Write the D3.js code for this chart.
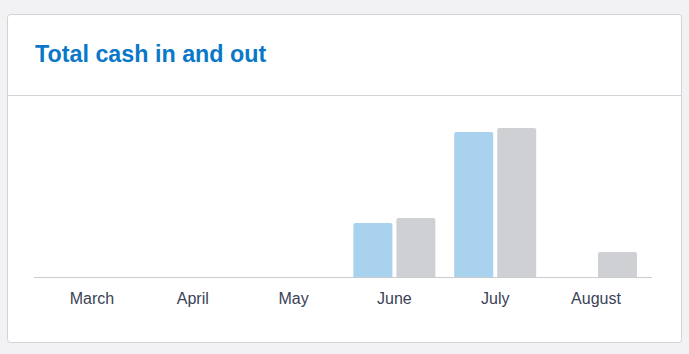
<!DOCTYPE html>
<html>
<head>
<meta charset="utf-8">
<script src="https://cdn.jsdelivr.net/npm/d3@7"></script>
<style>
  body { margin: 0; background: #f2f2f4; font-family: "Liberation Sans", Arial, sans-serif; }
</style>
</head>
<body>
<div id="chart"></div>
<script>
var months = ['March', 'April', 'May', 'June', 'July', 'August'];
var cashIn = [0, 0, 0, 3600, 9670, 0];
var cashOut = [0, 0, 0, 3930, 9930, 1670];

var width = 689, height = 354;

var svg = d3.select('#chart').append('svg')
    .attr('width', width)
    .attr('height', height);

// card
svg.append('rect')
    .attr('x', 7.5).attr('y', 14.5)
    .attr('width', 674).attr('height', 328)
    .attr('rx', 3)
    .style('fill', '#fff')
    .style('stroke', '#d3d3d7');

svg.append('line')
    .attr('x1', 8).attr('x2', 681)
    .attr('y1', 95.5).attr('y2', 95.5)
    .style('stroke', '#d3d3d7');

svg.append('text')
    .attr('x', 35).attr('y', 62)
    .style('font-size', '23.3px')
    .style('font-weight', 'bold')
    .style('fill', '#0a78c8')
    .text('Total cash in and out');

var x = d3.scaleBand().domain(months).range([41.6, 646.4]);
var y = d3.scaleLinear().domain([0, 10000]).range([277, 127]);

var barW = 39, gap = 4;

function bars(values, cls, color, offset) {
    svg.selectAll('.' + cls)
        .data(values.map(function(v, i) { return { m: months[i], v: v }; }).filter(function(d) { return d.v > 0; }))
        .enter()
        .append('path')
        .attr('class', cls)
        .attr('d', function(d) {
            var x0 = x(d.m) + x.bandwidth() / 2 + offset;
            var y0 = y(d.v), y1 = y(0), r = 2;
            return 'M' + x0 + ',' + y1 + 'V' + (y0 + r) + 'Q' + x0 + ',' + y0 + ' ' + (x0 + r) + ',' + y0 +
                'H' + (x0 + barW - r) + 'Q' + (x0 + barW) + ',' + y0 + ' ' + (x0 + barW) + ',' + (y0 + r) +
                'V' + y1 + 'Z';
        })
        .style('fill', color);
}

bars(cashIn, 'in', '#a9d2ee', -gap / 2 - barW);
bars(cashOut, 'out', '#cfd0d4', gap / 2);

// baseline runs a bit wider than the bands
svg.append('line')
    .attr('x1', 34).attr('x2', 652)
    .attr('y1', y(0) + 0.5).attr('y2', y(0) + 0.5)
    .style('stroke', '#cccccc');

var axis = svg.append('g')
    .attr('transform', 'translate(0,' + y(0) + ')')
    .call(d3.axisBottom(x).tickSize(0).tickPadding(16));
axis.select('.domain').remove();
axis.selectAll('text')
    .style('font-size', '16px')
    .style('font-family', '"Liberation Sans", Arial, sans-serif')
    .style('fill', '#3a4256');
</script>
</body>
</html>
